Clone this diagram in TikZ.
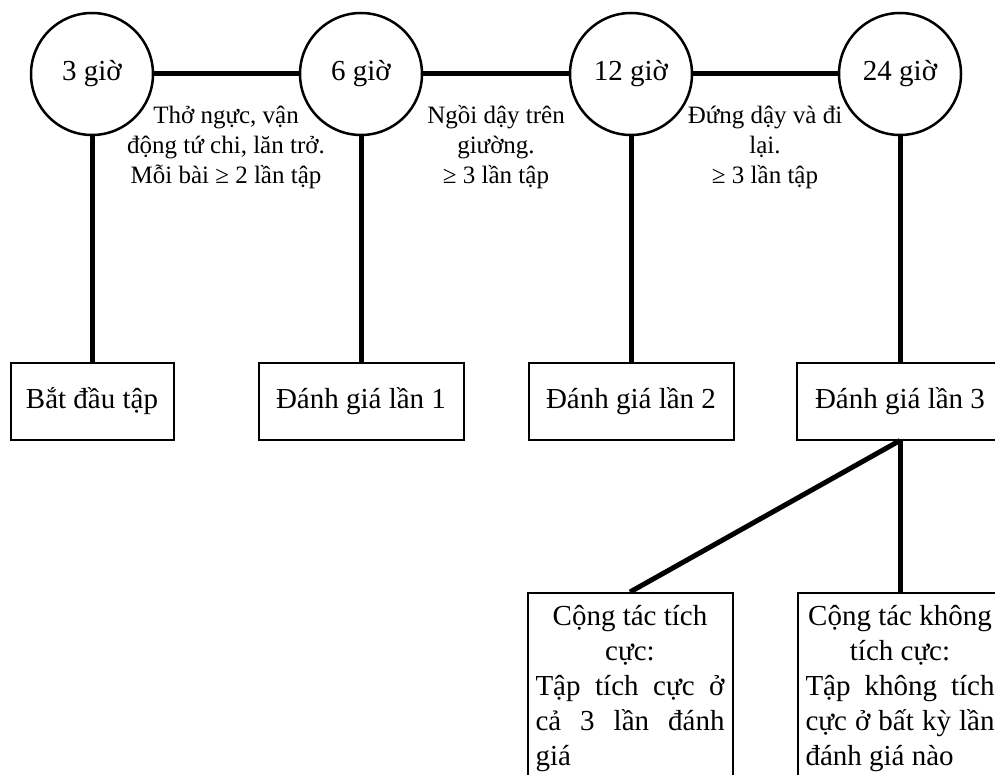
\documentclass[tikz,border=0pt]{standalone}
\usepackage{fontspec}
\setmainfont{Liberation Serif}

\begin{document}
\begin{tikzpicture}[
    x=1pt, y=1pt,
    time/.style={circle, draw=black, line width=2.5pt, fill=white,
        minimum size=122pt, inner sep=0pt, font=\fontsize{29}{33}\selectfont},
    stage/.style={rectangle, draw=black, line width=2pt, fill=white,
        minimum height=77pt, inner sep=0pt, font=\fontsize{29}{33}\selectfont},
    result/.style={rectangle, draw=black, line width=2pt, fill=white,
        text width=189pt, align=justify, inner xsep=8pt, inner ysep=12pt,
        anchor=north, font=\fontsize{29}{35}\selectfont},
    note/.style={align=center, inner sep=0pt, font=\fontsize{25}{30}\selectfont},
    link/.style={line width=5pt, -}
]
    \useasboundingbox (0,0) rectangle (995,-775);
    \clip (0,0) rectangle (995,-775);

    % time points
    \node[time] (t3) at (92,-74) {3 giờ};
    \node[time] (t6) at (361,-74) {6 giờ};
    \node[time] (t12) at (631,-74) {12 giờ};
    \node[time] (t24) at (900,-74) {24 giờ};

    % stages
    \node[stage, minimum width=163pt] (start) at (92,-401) {Bắt đầu tập};
    \node[stage, minimum width=205pt] (eval1) at (361,-401) {Đánh giá lần 1};
    \node[stage, minimum width=205pt] (eval2) at (631,-401) {Đánh giá lần 2};
    \node[stage, minimum width=206pt] (eval3) at (900,-401) {Đánh giá lần 3};

    % exercises between time points
    \node[note] (ex1) at (226,-147) {Thở ngực, vận\\ động tứ chi, lăn trở.\\ Mỗi bài ≥ 2 lần tập};
    \node[note] (ex2) at (496,-147) {Ngồi dậy trên\\ giường.\\ ≥ 3 lần tập};
    \node[note] (ex3) at (765,-147) {Đứng dậy và đi\\ lại.\\ ≥ 3 lần tập};

    % outcomes
    \node[result] (active) at (630,-592) {{\centering Cộng tác tích\\ cực:\par}Tập tích cực ở\linebreak cả 3 lần đánh\linebreak giá\par\rule{0pt}{30pt}};
    \node[result] (passive) at (900,-592) {{\centering Cộng tác không\\ tích cực:\par}Tập không tích\linebreak cực ở bất kỳ lần\linebreak đánh giá nào\par\rule{0pt}{30pt}};

    \draw[link] (t3) -- (t6);
    \draw[link] (t6) -- (t12);
    \draw[link] (t12) -- (t24);
    \draw[link] (t3) -- (start);
    \draw[link] (t6) -- (eval1);
    \draw[link] (t12) -- (eval2);
    \draw[link] (t24) -- (eval3);
    \draw[link] (eval3.south) -- (active.north);
    \draw[link] (eval3.south) -- (passive.north);
\end{tikzpicture}
\end{document}
